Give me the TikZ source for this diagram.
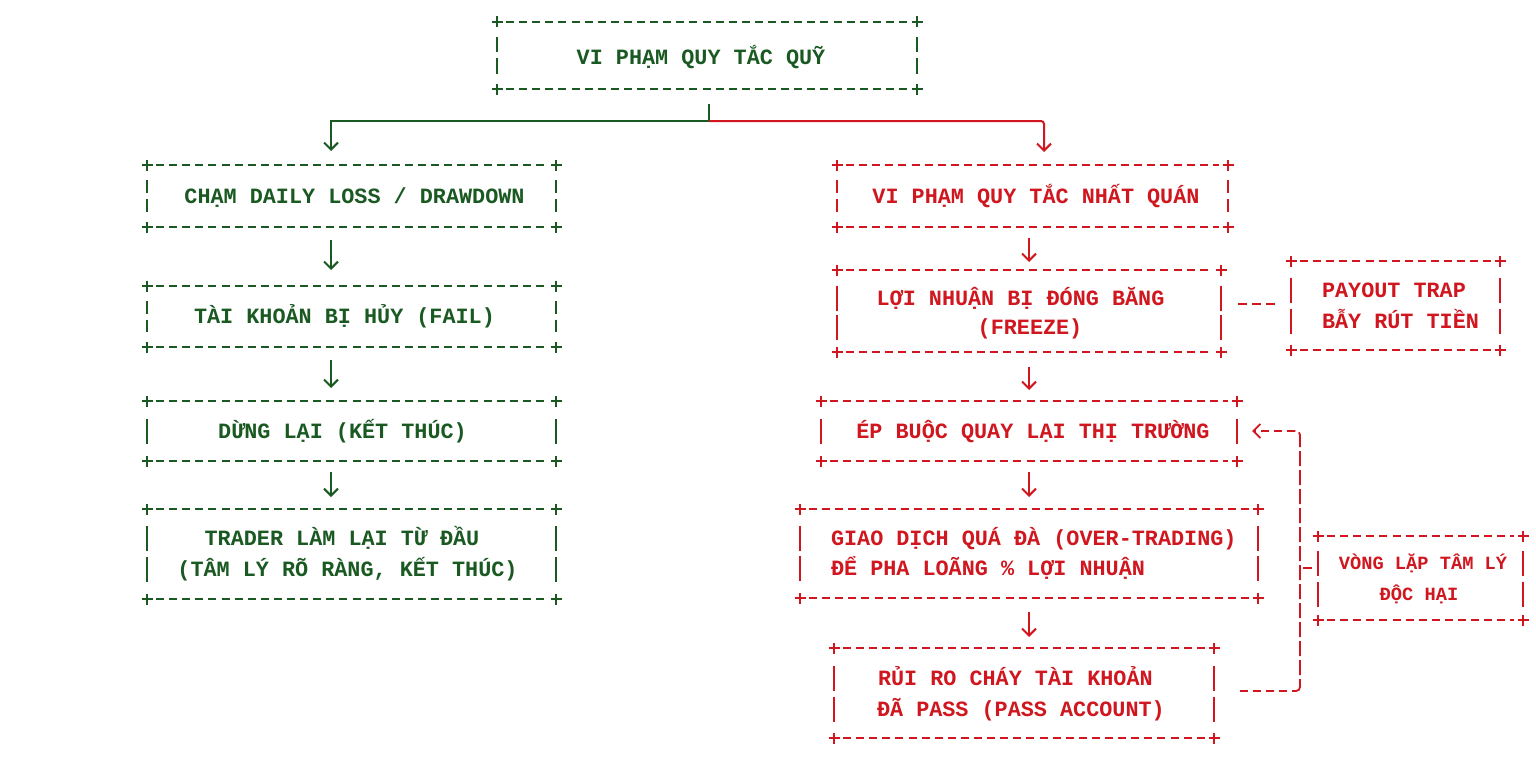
\documentclass[tikz,border=0pt]{standalone}
\usepackage{fontspec}
\setmonofont{Liberation Mono}
\usetikzlibrary{calc,arrows.meta}
\definecolor{gr}{RGB}{26,90,34}
\definecolor{rd}{RGB}{208,22,30}
\newcommand{\asciiframe}[2]{%
  \draw[#2,hline] ($(#1.north west)+(9,0)$) -- ($(#1.north east)+(-9,0)$);
  \draw[#2,hline] ($(#1.south west)+(9,0)$) -- ($(#1.south east)+(-9,0)$);
  \draw[#2,plus] ($(#1.north west)+(-5.5,0)$) -- ($(#1.north west)+(5.5,0)$) ($(#1.north west)+(0,-5.5)$) -- ($(#1.north west)+(0,5.5)$);
  \draw[#2,plus] ($(#1.north east)+(-5.5,0)$) -- ($(#1.north east)+(5.5,0)$) ($(#1.north east)+(0,-5.5)$) -- ($(#1.north east)+(0,5.5)$);
  \draw[#2,plus] ($(#1.south west)+(-5.5,0)$) -- ($(#1.south west)+(5.5,0)$) ($(#1.south west)+(0,-5.5)$) -- ($(#1.south west)+(0,5.5)$);
  \draw[#2,plus] ($(#1.south east)+(-5.5,0)$) -- ($(#1.south east)+(5.5,0)$) ($(#1.south east)+(0,-5.5)$) -- ($(#1.south east)+(0,5.5)$);
}
\newcommand{\brokensides}[2]{%
  \draw[#2,vline] ($(#1.north west)+(0,15)$) -- ($(#1.west)+(0,-3)$) ($(#1.west)+(0,3)$) -- ($(#1.south west)+(0,-15)$)
    ($(#1.north east)+(0,15)$) -- ($(#1.east)+(0,-3)$) ($(#1.east)+(0,3)$) -- ($(#1.south east)+(0,-15)$);
}
\newcommand{\rowsides}[3]{%
  \foreach \r in {#3}{%
    \draw[#2,vline] ($(#1.west)+(0,\r-12.5)$) -- ($(#1.west)+(0,\r+12.5)$)
      ($(#1.east)+(0,\r-12.5)$) -- ($(#1.east)+(0,\r+12.5)$);}
}
\begin{document}
\begin{tikzpicture}[x=1pt,y=-1pt,
  box/.style={draw=none,inner sep=0pt,outer sep=0pt},
  txt/.style={inner sep=0pt,outer sep=0pt,font=\fontsize{21.8}{31}\selectfont\ttfamily\bfseries,text height=16.4pt,text depth=2pt},
  smalltxt/.style={txt,font=\fontsize{18.7}{31}\selectfont\ttfamily\bfseries,text height=14.3pt,text depth=2pt},
  hline/.style={line width=1.8pt,dash pattern=on 8pt off 5.1pt},
  vline/.style={line width=1.8pt},
  vdash/.style={line width=1.8pt,dash pattern=on 15pt off 4pt},
  plus/.style={line width=1.8pt},
  conn/.style={line width=2pt},
  flow/.style={line width=2pt,-{Straight Barb[length=7pt,width=14pt]}},
]
\fill[white] (0,0) rectangle (1536,768);
\useasboundingbox (0,0) rectangle (1536,768);

% ---------- boxes ----------
\node[box,minimum width=420pt,minimum height=67pt] (top) at (707,55.5) {};
\node[box,minimum width=409pt,minimum height=62pt] (L1) at (351.5,196) {};
\node[box,minimum width=409pt,minimum height=61pt] (L2) at (351.5,316.5) {};
\node[box,minimum width=409pt,minimum height=60pt] (L3) at (351.5,431) {};
\node[box,minimum width=409pt,minimum height=90pt] (L4) at (351.5,554) {};
\node[box,minimum width=391pt,minimum height=62pt] (R1) at (1032.5,196) {};
\node[box,minimum width=384pt,minimum height=82pt] (R2) at (1029,311) {};
\node[box,minimum width=209pt,minimum height=89pt] (PAY) at (1395.5,305.5) {};
\node[box,minimum width=416pt,minimum height=60pt] (R3) at (1029,431) {};
\node[box,minimum width=458pt,minimum height=89pt] (R4) at (1029,553.5) {};
\node[box,minimum width=380pt,minimum height=90pt] (R5) at (1024,693) {};
\node[box,minimum width=205pt,minimum height=84pt] (LOOP) at (1420.5,578) {};

% ---------- frames ----------
\asciiframe{top}{gr}\brokensides{top}{gr}
\asciiframe{L1}{gr}\brokensides{L1}{gr}
\asciiframe{L2}{gr}\brokensides{L2}{gr}
\asciiframe{L3}{gr}\rowsides{L3}{gr}{0}
\asciiframe{L4}{gr}\rowsides{L4}{gr}{-15.5,15.5}
\asciiframe{R1}{rd}\brokensides{R1}{rd}
\asciiframe{R2}{rd}\rowsides{R2}{rd}{-13,16}
\asciiframe{PAY}{rd}\rowsides{PAY}{rd}{-15.5,15.5}
\asciiframe{R3}{rd}\rowsides{R3}{rd}{0}
\asciiframe{R4}{rd}\rowsides{R4}{rd}{-15.5,14.5}
\asciiframe{R5}{rd}\rowsides{R5}{rd}{-15,16}
\asciiframe{LOOP}{rd}\rowsides{LOOP}{rd}{-15,16}

% ---------- texts ----------
\node[txt,gr] (topT) at ($(top.center)+(-6,1.5)$) {VI PHẠM QUY TẮC QUỸ};
\node[txt,gr] (L1T) at ($(L1.center)+(3,0)$) {CHẠM DAILY LOSS / DRAWDOWN};
\node[txt,gr] (L2T) at ($(L2.center)+(-7,0)$) {TÀI KHOẢN BỊ HỦY (FAIL)};
\node[txt,gr] (L3T) at ($(L3.center)+(-9,0)$) {DỪNG LẠI (KẾT THÚC)};
\node[txt,gr] (L4a) at ($(L4.center)+(-9.5,-16)$) {TRADER LÀM LẠI TỪ ĐẦU};
\node[txt,gr] (L4b) at ($(L4.center)+(-4,15)$) {(TÂM LÝ RÕ RÀNG, KẾT THÚC)};
\node[txt,rd] (R1T) at ($(R1.center)+(3.5,0)$) {VI PHẠM QUY TẮC NHẤT QUÁN};
\node[txt,rd] (R2a) at ($(R2.center)+(-8.5,-13)$) {LỢI NHUẬN BỊ ĐÓNG BĂNG};
\node[txt,rd] (R2b) at ($(R2.center)+(1,16)$) {(FREEZE)};
\node[txt,rd,anchor=west] (PAYa) at ($(PAY.west)+(31,-15.5)$) {PAYOUT TRAP};
\node[txt,rd,anchor=west] (PAYb) at ($(PAY.west)+(31,15.5)$) {BẪY RÚT TIỀN};
\node[txt,rd] (R3T) at ($(R3.center)+(4,0)$) {ÉP BUỘC QUAY LẠI THỊ TRƯỜNG};
\node[txt,rd,anchor=west] (R4a) at ($(R4.west)+(31,-15.5)$) {GIAO DỊCH QUÁ ĐÀ (OVER-TRADING)};
\node[txt,rd,anchor=west] (R4b) at ($(R4.west)+(31,14.5)$) {ĐỂ PHA LOÃNG \% LỢI NHUẬN};
\node[txt,rd,anchor=west] (R5a) at ($(R5.west)+(44,-15)$) {RỦI RO CHÁY TÀI KHOẢN};
\node[txt,rd,anchor=west] (R5b) at ($(R5.west)+(43,16)$) {ĐÃ PASS (PASS ACCOUNT)};
\node[smalltxt,rd] (LOOPa) at ($(LOOP.center)+(2.5,-15)$) {VÒNG LẶP TÂM LÝ};
\node[smalltxt,rd] (LOOPb) at ($(LOOP.center)+(-1.5,16)$) {ĐỘC HẠI};

% ---------- top split ----------
\coordinate (split) at ($(top.south)+(2,32)$);
\draw[gr,conn] ($(top.south)+(2,15)$) -- (split);
\draw[gr,flow] (split) -| ($(L1.north)+(-20.5,-14)$);
\draw[rd,flow,rounded corners=3pt] (split) -| ($(R1.north)+(11.5,-13)$);

% ---------- vertical arrows ----------
\draw[gr,flow] ($(L1.south)+(-20.5,13)$) -- ($(L2.north)+(-20.5,-16)$);
\draw[gr,flow] ($(L2.south)+(-20.5,13)$) -- ($(L3.north)+(-20.5,-13)$);
\draw[gr,flow] ($(L3.south)+(-20.5,11)$) -- ($(L4.north)+(-20.5,-12)$);
\draw[rd,flow] ($(R1.south)+(-3.5,11)$) -- ($(R2.north)+(0,-8)$);
\draw[rd,flow] ($(R2.south)+(0,15)$) -- ($(R3.north)+(0,-11)$);
\draw[rd,flow] ($(R3.south)+(0,11)$) -- ($(R4.north)+(0,-12)$);
\draw[rd,flow] ($(R4.south)+(0,14)$) -- ($(R5.north)+(5,-11)$);

% ---------- side links ----------
\draw[rd,line width=1.8pt,dash pattern=on 9pt off 5pt] ($(R2.east)+(17,-7)$) -- ($(PAY.west)+(-16,-1.5)$);

\coordinate (lb) at ($(R5.east)+(86,-2)$);
\coordinate (lt) at (lb |- R3.east);
\draw[rd,hline] ($(R5.east)+(26,-2)$) -- ($(lb)+(-5,0)$);
\draw[rd,vdash,rounded corners=4pt] ($(lb)+(-5,0)$) -- (lb) -- (lt) -- ($(lt)+(-5,0)$);
\draw[rd,hline,-{Straight Barb[length=7pt,width=14pt]}] ($(lt)+(-5,0)$) -- ($(R3.east)+(15,0)$);
\draw[rd,vline] ($(LOOP.west)+(-15,-10)$) -- ($(LOOP.west)+(-6,-10)$);
\end{tikzpicture}
\end{document}
